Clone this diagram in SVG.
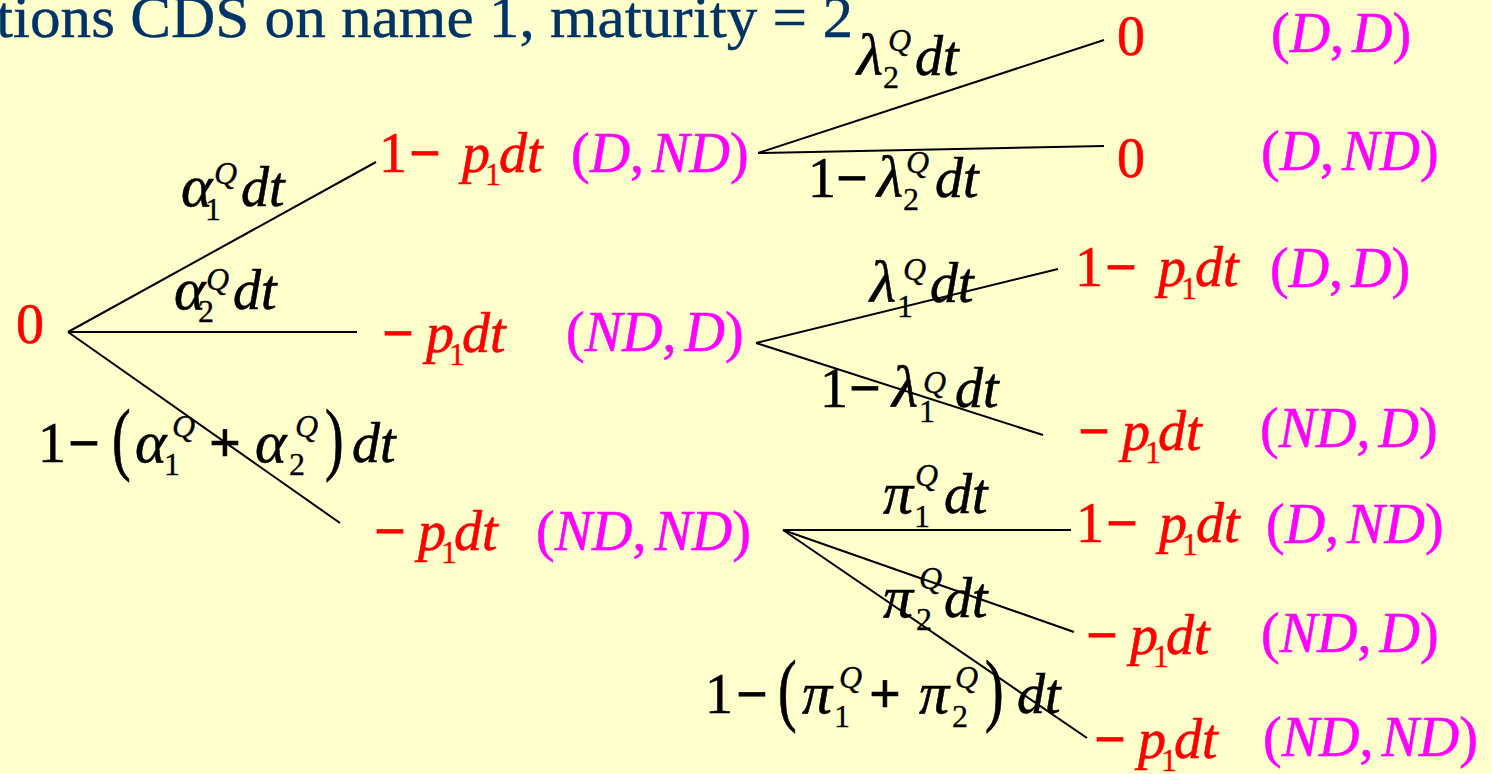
<svg xmlns="http://www.w3.org/2000/svg" width="1492" height="774" viewBox="0 0 1492 774">
<style>
text{font-family:"Liberation Serif","Times New Roman",serif;font-size:56px;stroke-width:0.6}
.red{fill:#FF0000;stroke:#FF0000}.mag{fill:#FF00FF;stroke:#FF00FF}.blk{fill:#000000;stroke:#000000}
.i{font-style:italic}.s{font-size:32px;stroke-width:0.3}.g{font-style:italic;font-size:60px}
.b{font-weight:bold}
.title{fill:#003366;stroke:#003366;stroke-width:0.4;font-size:59px}
.edge{stroke:#000000;stroke-width:2;fill:none}
</style>
<rect width="1492" height="774" fill="#FFFFCC"/>
<text class="title" x="-4" y="37" textLength="857" lengthAdjust="spacingAndGlyphs">tions CDS on name 1, maturity = 2</text>
<g id="connectors">
<path class="edge" d="M68,332 L376,162"/>
<path class="edge" d="M68,332 L357,332"/>
<path class="edge" d="M68,332 L340,523"/>
<path class="edge" d="M758,153 L1104,40"/>
<path class="edge" d="M758,153 L1104,146"/>
<path class="edge" d="M756,343 L1058,269"/>
<path class="edge" d="M756,343 L1043,435"/>
<path class="edge" d="M783,530 L1071,530"/>
<path class="edge" d="M783,530 L1074,632"/>
<path class="edge" d="M783,530 L1087,738"/>
</g>
<g id="root"><text class="red" x="16" y="343" font-size="55">0</text></g>
<g id="n1">
<text class="red"><tspan x="379" y="172">1</tspan><tspan class="b" x="409" y="172">−</tspan><tspan class="i" x="462" y="172">p</tspan><tspan class="s" x="485" y="185">1</tspan><tspan class="i" x="499" y="172">dt</tspan></text>
<text class="mag" x="571" y="172">(<tspan class="i">D</tspan>,<tspan class="i" dx="8">ND</tspan>)</text>
</g>
<g id="n2">
<text class="red"><tspan class="b" x="382" y="352">−</tspan><tspan class="i" x="426" y="352">p</tspan><tspan class="s" x="449" y="365">1</tspan><tspan class="i" x="462" y="352">dt</tspan></text>
<text class="mag" x="566" y="351">(<tspan class="i">ND</tspan>,<tspan class="i" dx="8">D</tspan>)</text>
</g>
<g id="n3">
<text class="red"><tspan class="b" x="374" y="550">−</tspan><tspan class="i" x="418" y="550">p</tspan><tspan class="s" x="441" y="563">1</tspan><tspan class="i" x="454" y="550">dt</tspan></text>
<text class="mag" x="536" y="550">(<tspan class="i">ND</tspan>,<tspan class="i" dx="8">ND</tspan>)</text>
</g>
<g id="l1">
<text class="red" x="1117" y="55" font-size="62">0</text>
<text class="mag" x="1271" y="52">(<tspan class="i">D</tspan>,<tspan class="i" dx="8">D</tspan>)</text>
</g>
<g id="l2">
<text class="red" x="1117" y="177" font-size="62">0</text>
<text class="mag" x="1261" y="170">(<tspan class="i">D</tspan>,<tspan class="i" dx="8">ND</tspan>)</text>
</g>
<g id="l3">
<text class="red"><tspan x="1075" y="286">1</tspan><tspan class="b" x="1105" y="286">−</tspan><tspan class="i" x="1158" y="286">p</tspan><tspan class="s" x="1181" y="299">1</tspan><tspan class="i" x="1195" y="286">dt</tspan></text>
<text class="mag" x="1270" y="287">(<tspan class="i">D</tspan>,<tspan class="i" dx="8">D</tspan>)</text>
</g>
<g id="l4">
<text class="red"><tspan class="b" x="1078" y="450">−</tspan><tspan class="i" x="1122" y="450">p</tspan><tspan class="s" x="1145" y="463">1</tspan><tspan class="i" x="1158" y="450">dt</tspan></text>
<text class="mag" x="1260" y="447">(<tspan class="i">ND</tspan>,<tspan class="i" dx="8">D</tspan>)</text>
</g>
<g id="l5">
<text class="red"><tspan x="1076" y="542">1</tspan><tspan class="b" x="1106" y="542">−</tspan><tspan class="i" x="1159" y="542">p</tspan><tspan class="s" x="1182" y="555">1</tspan><tspan class="i" x="1196" y="542">dt</tspan></text>
<text class="mag" x="1266" y="543">(<tspan class="i">D</tspan>,<tspan class="i" dx="8">ND</tspan>)</text>
</g>
<g id="l6">
<text class="red"><tspan class="b" x="1086" y="654">−</tspan><tspan class="i" x="1130" y="654">p</tspan><tspan class="s" x="1153" y="667">1</tspan><tspan class="i" x="1166" y="654">dt</tspan></text>
<text class="mag" x="1261" y="652">(<tspan class="i">ND</tspan>,<tspan class="i" dx="8">D</tspan>)</text>
</g>
<g id="l7">
<text class="red"><tspan class="b" x="1094" y="758">−</tspan><tspan class="i" x="1138" y="758">p</tspan><tspan class="s" x="1161" y="771">1</tspan><tspan class="i" x="1174" y="758">dt</tspan></text>
<text class="mag" x="1263" y="756">(<tspan class="i">ND</tspan>,<tspan class="i" dx="8">ND</tspan>)</text>
</g>
<g id="labels">
<text class="blk"><tspan class="g" x="181" y="206">α</tspan><tspan class="s" x="205" y="220">1</tspan><tspan class="s i" x="214" y="184">Q</tspan><tspan class="i" x="241" y="206">dt</tspan></text>
<text class="blk"><tspan class="g" x="174" y="309">α</tspan><tspan class="s" x="198" y="322">2</tspan><tspan class="s i" x="206" y="290">Q</tspan><tspan class="i" x="233" y="309">dt</tspan></text>
<text class="blk"><tspan x="38" y="462">1</tspan><tspan class="b" x="68" y="462">−</tspan><tspan class="g" x="135" y="462">α</tspan><tspan class="s" x="164" y="475">1</tspan><tspan class="s i" x="172" y="437">Q</tspan><tspan class="b" x="209" y="462">+</tspan><tspan class="g" x="255" y="462">α</tspan><tspan class="s" x="289" y="475">2</tspan><tspan class="s i" x="295" y="437">Q</tspan><tspan class="i" x="352" y="462">dt</tspan></text>
<text class="blk" transform="translate(112,465) scale(1,1.45)">(</text>
<text class="blk" transform="translate(325,465) scale(1,1.45)">)</text>
<text class="blk"><tspan class="g" x="857" y="75">λ</tspan><tspan class="s" x="883" y="88">2</tspan><tspan class="s i" x="888" y="51">Q</tspan><tspan class="i" x="915" y="75">dt</tspan></text>
<text class="blk"><tspan x="808" y="197">1</tspan><tspan class="b" x="836" y="197">−</tspan><tspan class="g" x="877" y="197">λ</tspan><tspan class="s" x="903" y="210">2</tspan><tspan class="s i" x="906" y="173">Q</tspan><tspan class="i" x="935" y="197">dt</tspan></text>
<text class="blk"><tspan class="g" x="870" y="302">λ</tspan><tspan class="s" x="897" y="317">1</tspan><tspan class="s i" x="903" y="280">Q</tspan><tspan class="i" x="930" y="302">dt</tspan></text>
<text class="blk"><tspan x="820" y="407">1</tspan><tspan class="b" x="849" y="407">−</tspan><tspan class="g" x="892" y="407">λ</tspan><tspan class="s" x="919" y="422">1</tspan><tspan class="s i" x="923" y="393">Q</tspan><tspan class="i" x="955" y="407">dt</tspan></text>
<text class="blk"><tspan class="g" x="883" y="513">π</tspan><tspan class="s" x="914" y="527">1</tspan><tspan class="s i" x="915" y="486">Q</tspan><tspan class="i" x="944" y="513">dt</tspan></text>
<text class="blk"><tspan class="g" x="883" y="617">π</tspan><tspan class="s" x="916" y="630">2</tspan><tspan class="s i" x="919" y="589">Q</tspan><tspan class="i" x="944" y="617">dt</tspan></text>
<text class="blk"><tspan x="705" y="713">1</tspan><tspan class="b" x="736" y="713">−</tspan><tspan class="g" x="802" y="713">π</tspan><tspan class="s" x="834" y="727">1</tspan><tspan class="s i" x="839" y="688">Q</tspan><tspan class="b" x="869" y="713">+</tspan><tspan class="g" x="919" y="713">π</tspan><tspan class="s" x="952" y="727">2</tspan><tspan class="s i" x="955" y="688">Q</tspan><tspan class="i" x="1017" y="713">dt</tspan></text>
<text class="blk" transform="translate(778,716) scale(1,1.45)">(</text>
<text class="blk" transform="translate(985,716) scale(1,1.45)">)</text>
</g>
</svg>
